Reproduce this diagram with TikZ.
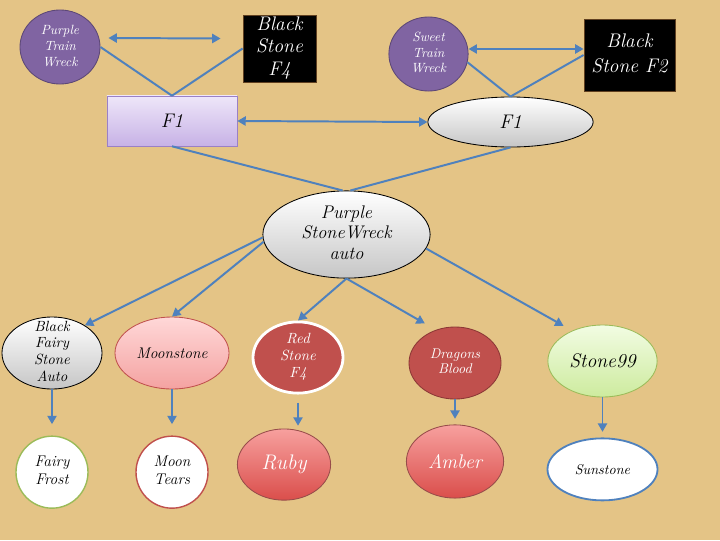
\documentclass[tikz,border=0pt]{standalone}
\usepackage{tikz}
\usetikzlibrary{shapes.geometric, arrows.meta, positioning, calc}
\definecolor{bgtan}{HTML}{E4C486}
\definecolor{linkcol}{HTML}{4F81BD}
\definecolor{purpleA}{HTML}{8064A2}
\definecolor{purpleD}{HTML}{5C4776}
\definecolor{lavTop}{HTML}{EEE6F9}
\definecolor{lavBot}{HTML}{C7B2E6}
\definecolor{lavLine}{HTML}{9A80C6}
\definecolor{redA}{HTML}{C0504D}
\definecolor{redD}{HTML}{8C3836}
\definecolor{pinkTop}{HTML}{FFD8D8}
\definecolor{pinkBot}{HTML}{F4A2A1}
\definecolor{rubyTop}{HTML}{F7A09E}
\definecolor{rubyBot}{HTML}{DA4E4B}
\definecolor{greenA}{HTML}{9BBB59}
\definecolor{limeTop}{HTML}{F2FCE3}
\definecolor{limeBot}{HTML}{CDEB9E}
\newcommand{\stack}[1]{\raisebox{-0.25em}[0pt][0pt]{\begin{tabular}{@{}c@{}}#1\end{tabular}}}
\newcommand{\fs}[2]{\fontsize{#1}{#2}\selectfont}

\begin{document}
\begin{tikzpicture}[
  x=0.025cm, y=-0.025cm,
  every node/.style={font=\itshape, inner sep=0pt},
  oval/.style={ellipse, line width=0.6pt},
  purpleball/.style={oval, fill=purpleA, draw=purpleD, text=white,
    minimum width=2cm, minimum height=1.85cm},
  blackbox/.style={rectangle, fill=black, draw=brown!50!black, text=white},
  greyoval/.style={oval, draw=black, top color=white, bottom color=gray!45},
  pinkoval/.style={oval, draw=redA, top color=pinkTop, bottom color=pinkBot},
  redoval/.style={oval, fill=redA, text=white},
  rubyoval/.style={oval, draw=redD!90, top color=rubyTop, bottom color=rubyBot, text=white},
  limeoval/.style={oval, draw=greenA, top color=limeTop, bottom color=limeBot},
  whiteoval/.style={oval, fill=white, line width=1pt},
  arrow/.style={-{Triangle[length=6pt,width=6.5pt]}, line width=1.4pt, color=linkcol},
  biarrow/.style={{Triangle[length=6pt,width=6.5pt]}-{Triangle[length=6pt,width=6.5pt]},
                  line width=1.4pt, color=linkcol},
  link/.style={line width=1.4pt, color=linkcol}
]

%% ── Background ───────────────────────────────────────────────
\fill[bgtan] (0,0) rectangle (720,540);
\useasboundingbox (0,0) rectangle (720,540);

%% ── Top-left cluster ─────────────────────────────────────────
\node[purpleball, font=\itshape\fs{9.5}{11.5}] (ptw) at (60,47)
      {\stack{Purple\\Train\\Wreck}};
\node[blackbox, minimum width=1.83cm, minimum height=1.68cm,
      font=\itshape\fs{14}{16}] (bsf4) at (279.5,48.5)
      {\stack{Black\\Stone\\F4}};
\node[rectangle, draw=lavLine, top color=lavTop, bottom color=lavBot,
      minimum width=3.25cm, minimum height=1.25cm,
      font=\itshape\fs{14}{16}] (f1box) at (172,121) {F1};

%% ── Top-right cluster ────────────────────────────────────────
\node[purpleball, minimum width=1.98cm, font=\itshape\fs{9.5}{11}] (stw) at (428.5,54)
      {\stack{Sweet\\Train\\Wreck}};
\node[blackbox, minimum width=2.28cm, minimum height=1.8cm,
      font=\itshape\fs{14}{18}] (bsf2) at (629.5,55)
      {\stack{Black\\Stone F2}};
\node[greyoval, minimum width=4.13cm, minimum height=1.25cm,
      font=\itshape\fs{14}{16}] (f1ell) at (510.5,122) {F1};

%% ── Centre ───────────────────────────────────────────────────
\node[greyoval, minimum width=4.18cm, minimum height=2.18cm,
      font=\itshape\fs{13}{14.5}] (psw) at (346.5,234.5)
      {\stack{Purple\\StoneWreck\\auto}};

%% ── Middle row ───────────────────────────────────────────────
\node[greyoval, minimum width=2.5cm, minimum height=1.8cm,
      font=\itshape\fs{10.5}{11.8}] (bfsa) at (52,353)
      {\stack{Black\\Fairy\\Stone\\Auto}};
\node[pinkoval, minimum width=2.85cm, minimum height=1.8cm,
      font=\itshape\fs{11}{13}] (moon) at (172,353) {Moonstone};
\node[redoval, draw=white, line width=2pt, minimum width=2.25cm, minimum height=1.78cm,
      font=\itshape\fs{10.5}{12}] (rsf4) at (298,357.5)
      {\stack{Red\\Stone\\F4}};
\node[redoval, draw=redD, minimum width=2.3cm, minimum height=1.8cm,
      font=\itshape\fs{10}{10.5}] (drag) at (455,363)
      {\stack{Dragons\\Blood}};
\node[limeoval, minimum width=2.73cm, minimum height=1.8cm,
      font=\itshape\fs{14}{16}] (s99) at (602.5,361) {Stone99};

%% ── Bottom row ───────────────────────────────────────────────
\node[whiteoval, draw=greenA, minimum width=1.8cm, minimum height=1.8cm,
      font=\itshape\fs{11}{12.5}, below=1.15cm of bfsa] (frost)
      {\stack{Fairy\\Frost}};
\node[whiteoval, draw=redA, minimum width=1.8cm, minimum height=1.8cm,
      font=\itshape\fs{11}{12.5}, below=1.15cm of moon] (tears)
      {\stack{Moon\\Tears}};
\node[rubyoval, minimum width=2.33cm, minimum height=1.78cm,
      font=\itshape\fs{15}{17}, below=0.85cm of rsf4, xshift=-0.35cm] (ruby) {Ruby};
\node[rubyoval, minimum width=2.43cm, minimum height=1.83cm,
      font=\itshape\fs{14}{16}, below=0.625cm of drag] (amber) {Amber};
\node[whiteoval, draw=linkcol, line width=1.3pt, minimum width=2.75cm, minimum height=1.55cm,
      font=\itshape\fs{10}{12}, below=1.0cm of s99] (sun) {Sunstone};

%% ── Top connectors ───────────────────────────────────────────
\draw[biarrow] ($(ptw.east)+(8,-9)$) -- ($(bsf4.west)+(-22,-10)$);
\draw[link] (ptw.east)  -- (f1box.north);
\draw[link] (bsf4.west) -- (f1box.north);

\draw[biarrow] ($(stw.east)+(0,-5)$) -- ($(bsf2.west)+(0,-6)$);
\draw[link] (stw.-12)   -- (f1ell.north);
\draw[link] (bsf2.west) -- (f1ell.north);

\draw[biarrow] (f1box.east) -- (f1ell.west);

%% ── Into the centre ──────────────────────────────────────────
\draw[link] (f1box.south) -- (psw.95);
\draw[link] (f1ell.south) -- (psw.85);

%% ── Fan out ──────────────────────────────────────────────────
\draw[arrow] (psw.182) -- (bfsa.40);
\draw[arrow] (psw.185) -- (moon.north);
\draw[arrow] (psw.south) -- (rsf4.north);
\draw[arrow, shorten >=9pt] (psw.south) -- (drag.120);
\draw[arrow, shorten >=7pt] (psw.-10) -- (s99.135);

%% ── Down arrows ──────────────────────────────────────────────
\draw[arrow, shorten >=8pt] (bfsa) -- (frost);
\draw[arrow, shorten >=8pt] (moon) -- (tears);
\draw[arrow, shorten <=6pt, shorten >=2pt] (rsf4.south) -- (rsf4.south |- ruby.north);
\draw[arrow, shorten >=4pt] (drag) -- (amber);
\draw[arrow, shorten >=4pt] (s99) -- (sun);

\end{tikzpicture}
\end{document}
